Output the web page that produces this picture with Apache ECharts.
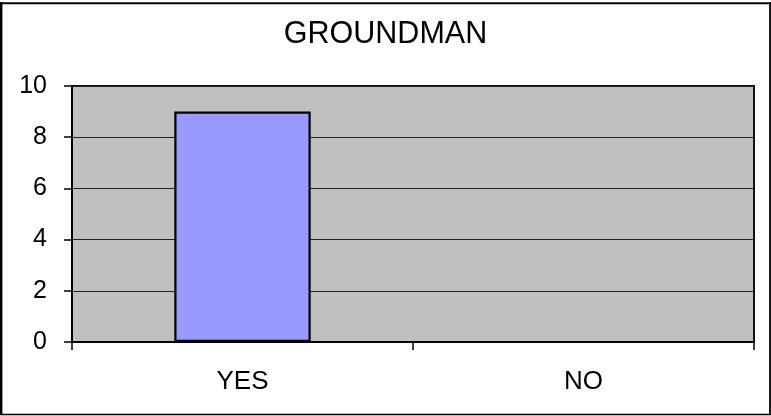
<!DOCTYPE html>
<html>
<head>
<meta charset="utf-8">
<script src="https://cdn.jsdelivr.net/npm/echarts@6/dist/echarts.min.js"></script>
<style>
  html, body { margin: 0; padding: 0; background: #fff; }
  #chart { width: 771px; height: 416px; }
</style>
</head>
<body>
<div id="chart"></div>
<script>
// Survey answers for the groundman question
const chartTitle = 'GROUNDMAN';
const categories = ['YES', 'NO'];
const counts = [9, 0];
const yTicks = { min: 0, max: 10, interval: 2 };

const chart = echarts.init(document.getElementById('chart'), null, { renderer: 'canvas' });

const FONT = '"Liberation Sans", Arial, sans-serif';

chart.setOption({
  animation: false,
  backgroundColor: '#ffffff',
  title: {
    text: chartTitle,
    left: 'center',
    top: 14,
    textStyle: { fontFamily: FONT, fontSize: 30.5, fontWeight: 'normal', color: '#000' }
  },
  grid: {
    left: 72, top: 86, width: 682, height: 256,
    show: true,
    backgroundColor: '#c0c0c0',
    borderColor: '#111',
    borderWidth: 2
  },
  xAxis: {
    type: 'category',
    data: categories,
    axisLine: { lineStyle: { color: '#000', width: 2 } },
    axisTick: { show: true, length: 8, alignWithLabel: false, lineStyle: { color: '#000', width: 1.5 } },
    axisLabel: { fontFamily: FONT, fontSize: 26, color: '#000', margin: 27 },
    splitLine: { show: false }
  },
  yAxis: {
    type: 'value',
    min: yTicks.min, max: yTicks.max, interval: yTicks.interval,
    axisLine: { show: true, lineStyle: { color: '#000', width: 2 } },
    axisTick: { show: true, length: 8, lineStyle: { color: '#000', width: 1.5 } },
    axisLabel: { fontFamily: FONT, fontSize: 25, color: '#000', margin: 25 },
    splitLine: { show: true, lineStyle: { color: '#222', width: 1.2 } }
  },
  series: [{
    type: 'bar',
    data: counts,
    barWidth: '40%',
    itemStyle: { color: '#9999ff', borderColor: '#000', borderWidth: 2.2 }
  }],
  graphic: [
    { type: 'line', shape: { x1: 1.2, y1: 2, x2: 1.2, y2: 415 }, style: { stroke: '#000', lineWidth: 2.4 }, z: 100 },
    { type: 'line', shape: { x1: 0, y1: 3.3, x2: 771, y2: 3.3 }, style: { stroke: '#000', lineWidth: 2 }, z: 100 },
    { type: 'line', shape: { x1: 770, y1: 2, x2: 770, y2: 415 }, style: { stroke: '#000', lineWidth: 1.8 }, z: 100 },
    { type: 'line', shape: { x1: 0, y1: 414.5, x2: 771, y2: 414.5 }, style: { stroke: '#000', lineWidth: 1.5 }, z: 100 }
  ]
});
</script>
</body>
</html>
